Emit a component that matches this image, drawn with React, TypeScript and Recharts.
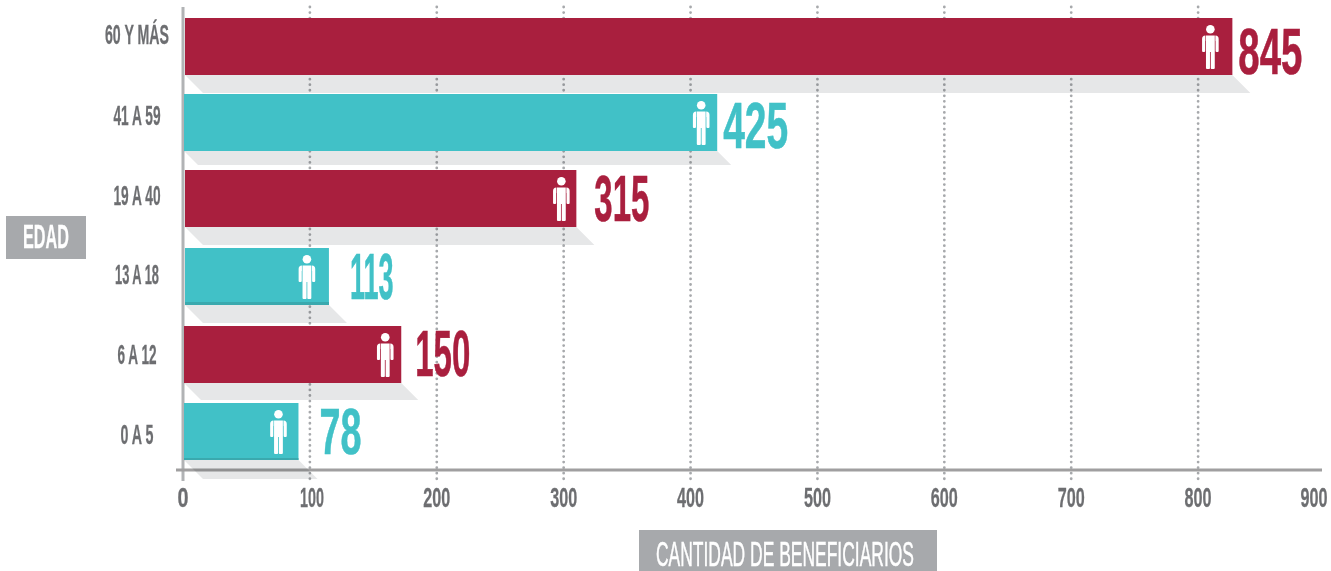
import React from 'react';
import { BarChart, Bar, XAxis, YAxis, CartesianGrid, LabelList } from 'recharts';

// age groups, top to bottom
const ageGroups = ['60 Y MÁS', '41 A 59', '19 A 40', '13 A 18', '6 A 12', '0 A 5'];
// printed numbers
const beneficiarios = [845, 425, 315, 113, 150, 78];
// the bars in the picture don't follow the printed numbers, so their lengths are read off the axis
const barLengths = [827, 421, 310, 115, 172, 91];
const xTicks = [0, 100, 200, 300, 400, 500, 600, 700, 800, 900];
const gridTicks = [100, 200, 300, 400, 500, 600, 700, 800];

const data = ageGroups.map((edad, i) => ({ edad, largo: barLengths[i], total: beneficiarios[i] }));

const RED = '#a91f3e';
const TEAL = '#41c1c7';
const GREY = '#6d6e71';
const BOX = '#a7a9ac';
const FONT = "'Liberation Sans', sans-serif";
const DIGIT_EM = 0.556; // digit advance of Liberation Sans Bold, squeezed to look condensed

// small per-row tweaks, the original was laid out by hand
const rowShift = [0, -1, -2, -1, 0, 0];
const barInset = [2, 1, 2, 2, 1, 1];
const shadowDepth = [18, 14, 18, 18, 17, 19];
const iconInset = [22, 16, 15, 22, 16, 20];
const darkStrip = [0, 0, 0, 3, 0, 2];
const labelGap = [6, 6, 18, 21, 14, 21];
const labelWidth = [64, 65, 55, 45, 55, 42];
const labelShift = [5, 2, -2, -1, -1, 0];
const tickWidth = [64, 47, 47, 44, 39, 33];
const tickShift = [-12, -8.5, -5.5, -3.5, 0, 2.5];

const Person = ({ cx, top }: { cx: number; top: number }) => (
  <g transform={`translate(${cx},${top})`} fill="#fff">
    <circle cx={0} cy={4.3} r={4.3} />
    <path d="M-4.4,10.5 H4.4 V27 V43 Q4.4,44 3.4,44 H1.2 Q0.4,44 0.4,43 V27 H-0.4 V43 Q-0.4,44 -1.2,44 H-3.4 Q-4.4,44 -4.4,43 Z" />
    <path d="M5,10.5 Q8.3,10.7 8.3,14 V26 Q8.3,27 7.3,27 H6.2 Q5.2,27 5.2,26 V16 H5 Z" />
    <path d="M-5,10.5 Q-8.3,10.7 -8.3,14 V26 Q-8.3,27 -7.3,27 H-6.2 Q-5.2,27 -5.2,26 V16 H-5 Z" />
  </g>
);

const BarShape = (props: any) => {
  const { x, y, width, height, index } = props;
  const top = y + rowShift[index];
  const left = x + barInset[index];
  const right = x + width;
  const bottom = top + height;
  const d = shadowDepth[index];
  const fill = index % 2 === 0 ? RED : TEAL;
  return (
    <g>
      <polygon
        points={`${left},${bottom} ${right},${bottom} ${right + d},${bottom + d} ${left + d},${bottom + d}`}
        fill="#e6e7e8"
        style={{ mixBlendMode: 'multiply' }}
      />
      <rect x={left} y={top} width={right - left} height={height} fill={fill} />
      {darkStrip[index] > 0 && (
        <rect x={left} y={bottom - darkStrip[index]} width={right - left} height={darkStrip[index]} fill="#3aa9ae" />
      )}
      <Person cx={right - iconInset[index]} top={top + 7} />
    </g>
  );
};

const ValueLabel = (props: any) => {
  const { x, y, width, height, value, index } = props;
  const size = 64;
  const sx = labelWidth[index] / (String(value).length * DIGIT_EM * size);
  const color = index % 2 === 0 ? RED : TEAL;
  return (
    <text
      transform={`translate(${x + width + labelGap[index]},${y + height / 2 + labelShift[index] + 22.5}) scale(${sx},1)`}
      fill={color}
      stroke={color}
      strokeWidth={0.6}
      fontFamily={FONT}
      fontWeight={700}
      fontSize={size}
    >
      {value}
    </text>
  );
};

const AgeTick = (props: any) => {
  const { y, payload, index } = props;
  return (
    <text
      x={137}
      y={y + tickShift[index] + 9.5}
      textAnchor="middle"
      fill={GREY}
      stroke={GREY}
      strokeWidth={0.3}
      fontFamily={FONT}
      fontWeight={700}
      fontSize={27}
      textLength={tickWidth[index]}
      lengthAdjust="spacingAndGlyphs"
    >
      {payload.value}
    </text>
  );
};

const CountTick = (props: any) => {
  const { x, payload } = props;
  const v = payload.value;
  const w = v === 0 ? 11 : v === 100 ? 24 : 27;
  const nudge = v === 900 ? -11 : v === 100 ? 2 : 0;
  const size = 27;
  const sx = w / (String(v).length * DIGIT_EM * size);
  return (
    <text
      transform={`translate(${x + nudge},507) scale(${sx},1)`}
      textAnchor="middle"
      fill={GREY}
      stroke={GREY}
      strokeWidth={0.3}
      fontFamily={FONT}
      fontWeight={700}
      fontSize={size}
    >
      {v}
    </text>
  );
};

const GridLine = (props: any) => (
  <line
    key={props.key}
    x1={props.x1}
    x2={props.x2}
    y1={7}
    y2={482}
    stroke={BOX}
    strokeWidth={2.8}
    strokeDasharray="0 5.55"
    strokeLinecap="round"
  />
);

const App = () => (
  <div style={{ position: 'absolute', left: 0, top: 0 }}>
    <BarChart
      width={1331}
      height={571}
      data={data}
      layout="vertical"
      margin={{ top: 8, right: 6, bottom: 0, left: 0 }}
      barCategoryGap={20}
    >
      <CartesianGrid horizontal={false} vertical={GridLine} verticalValues={gridTicks} />
      <XAxis
        type="number"
        domain={[0, 900]}
        ticks={xTicks}
        interval={0}
        height={101}
        axisLine={false}
        tickLine={false}
        tick={CountTick}
      />
      <YAxis type="category" dataKey="edad" width={183} interval={0} axisLine={false} tickLine={false} tick={AgeTick} />
      <Bar dataKey="largo" barSize={57} shape={BarShape} isAnimationActive={false}>
        <LabelList dataKey="total" content={ValueLabel} />
      </Bar>

      {/* axis lines run past the plot on purpose */}
      <line x1={183} x2={183} y1={7} y2={481} stroke="#b1b3b5" strokeWidth={3} />
      <line x1={176} x2={1322} y1={470} y2={470} stroke="#a09fa0" strokeWidth={3} />

      <rect x={6} y={216} width={80} height={43} fill={BOX} />
      <text x={46} y={248} textAnchor="middle" fill="#fff" stroke="#fff" strokeWidth={0.3} fontFamily={FONT} fontWeight={700} fontSize={34} textLength={46} lengthAdjust="spacingAndGlyphs">
        EDAD
      </text>
      <rect x={639} y={530} width={298} height={41} fill={BOX} />
      <text x={785} y={566} textAnchor="middle" fill="#fff" stroke="#fff" strokeWidth={0.5} fontFamily={FONT} fontWeight={400} fontSize={35} textLength={258} lengthAdjust="spacingAndGlyphs">
        CANTIDAD DE BENEFICIARIOS
      </text>
    </BarChart>
  </div>
);

export default App;
